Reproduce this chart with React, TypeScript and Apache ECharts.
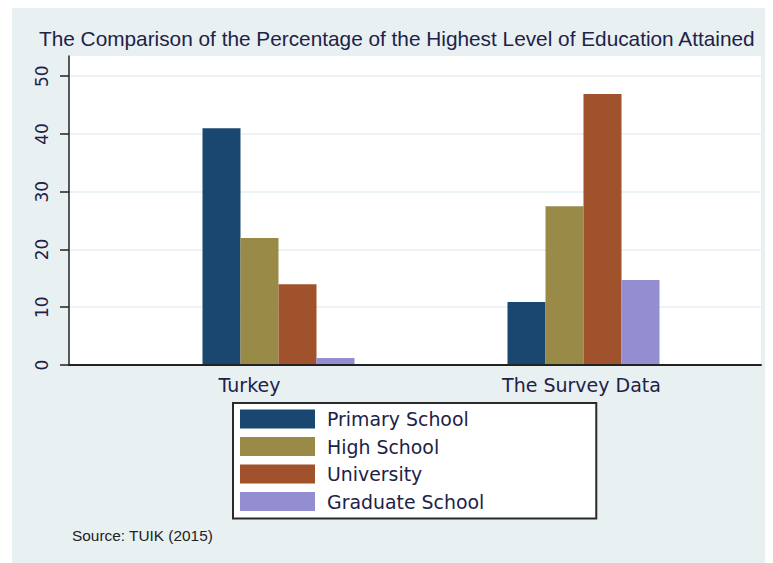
import React, { useEffect, useRef } from "react";
import * as echarts from "echarts";

const categories = ["Turkey", "The Survey Data"];
const seriesNames = ["Primary School", "High School", "University", "Graduate School"];
const primarySchool = [41, 10.9];
const highSchool = [22, 27.5];
const university = [14, 46.9];
const graduateSchool = [1.2, 14.7];
const yTickValues = [0, 10, 20, 30, 40, 50];
const titleText = "The Comparison of the Percentage of the Highest Level of Education Attained";
const sourceText = "Source: TUIK (2015)";

const colors = ["#1a476f", "#998a48", "#a0522d", "#938dd2"];
const textColor = "#1e2248";
const font = "DejaVu Sans";

export default function App() {
  const ref = useRef<HTMLDivElement>(null);
  useEffect(() => {
    if (!ref.current) return;
    const chart = echarts.init(ref.current, null, { renderer: "svg" });
    const values = [primarySchool, highSchool, university, graduateSchool];
    const yMax = 53.5;
    chart.setOption({
      animation: false,
      backgroundColor: "transparent",
      title: [
        {
          text: titleText,
          left: 22,
          top: 15,
          textStyle: { fontFamily: "Liberation Sans", fontSize: 20.8, fontWeight: "normal", color: textColor },
        },
        {
          text: sourceText,
          left: 55,
          top: 515,
          textStyle: { fontFamily: "Liberation Sans", fontSize: 15.4, fontWeight: "normal", color: "#222" },
        },
      ],
      legend: {
        orient: "vertical",
        left: 221,
        top: 395,
        data: seriesNames,
        itemWidth: 75,
        itemHeight: 19,
        itemGap: 8.5,
        padding: [6.5, 112, 7.5, 7],
        backgroundColor: "#ffffff",
        borderColor: "#2a2a2a",
        borderWidth: 2,
        borderRadius: 0,
        icon: "rect",
        textStyle: { fontFamily: font, fontSize: 18.9, color: textColor, padding: [0, 0, 0, 7] },
      },
      grid: [
        {
          left: 57,
          top: 48,
          width: 692,
          height: 309,
          show: true,
          backgroundColor: "#ffffff",
          borderWidth: 0,
        },
        {
          left: 114,
          top: 48,
          width: 610,
          height: 309,
        },
      ],
      xAxis: [
        {
          type: "value",
          gridIndex: 0,
          min: 0,
          max: 1,
          z: 5,
          axisLine: { show: true, lineStyle: { color: "#222", width: 2 } },
          axisTick: { show: false },
          axisLabel: { show: false },
          splitLine: { show: false },
        },
        {
          type: "category",
          gridIndex: 1,
          data: categories,
          axisLine: { show: false },
          axisTick: { show: false },
          splitLine: { show: false },
          axisLabel: {
            margin: 10,
            fontFamily: font,
            fontSize: 19,
            color: textColor,
            formatter: (v: string) => (v === categories[0] ? `{a|${v}}` : `{b|${v}}`),
            rich: {
              a: { fontFamily: font, fontSize: 19, color: textColor, padding: [0, 58, 0, 0] },
              b: { fontFamily: font, fontSize: 19, color: textColor, padding: [0, 4, 0, 0] },
            },
          },
        },
      ],
      yAxis: [
        {
          type: "value",
          gridIndex: 0,
          min: 0,
          max: yMax,
          interval: 10,
          axisLine: { show: true, lineStyle: { color: "#222", width: 1.5 } },
          axisTick: {
            show: true,
            length: 9,
            lineStyle: { color: "#222", width: 1.5 },
            customValues: yTickValues,
          },
          axisLabel: {
            rotate: 90,
            margin: 19,
            fontFamily: font,
            fontSize: 17,
            color: textColor,
            customValues: yTickValues,
          },
          splitLine: { show: true, lineStyle: { color: "#e6eff2", width: 1.5 } },
        },
        {
          type: "value",
          gridIndex: 1,
          min: 0,
          max: yMax,
          show: false,
          splitLine: { show: false },
        },
      ],
      series: seriesNames.map((name, i) => ({
        name,
        type: "bar",
        xAxisIndex: 1,
        yAxisIndex: 1,
        data: values[i],
        barWidth: 38,
        barGap: "0%",
        z: 3,
        itemStyle: { color: colors[i] },
      })),
    });
    return () => chart.dispose();
  }, []);
  return (
    <div style={{ marginLeft: 4, width: 761, height: 555, background: "#e8f0f2" }}>
      <div ref={ref} style={{ width: 761, height: 555 }} />
    </div>
  );
}
